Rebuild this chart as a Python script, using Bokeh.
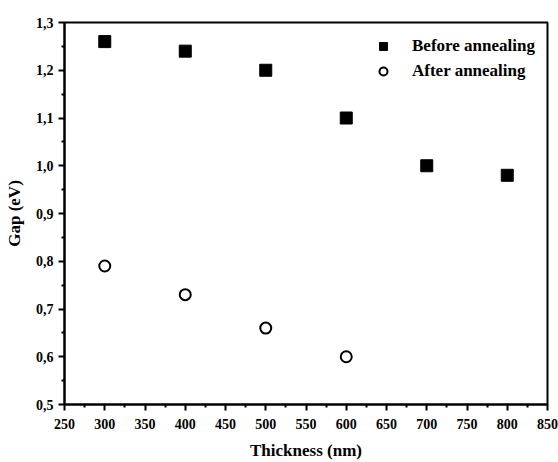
from bokeh.plotting import figure
from bokeh.models import FixedTicker, CustomJSTickFormatter, Range1d, Legend, LegendItem
from bokeh.embed import file_html
from bokeh.resources import INLINE

thickness_before = [300, 400, 500, 600, 700, 800]
gap_before = [1.26, 1.24, 1.20, 1.10, 1.00, 0.98]
thickness_after = [300, 400, 500, 600]
gap_after = [0.79, 0.73, 0.66, 0.60]

x_ticks = list(range(250, 851, 50))
x_minor = list(range(275, 850, 50))
y_ticks = [0.5, 0.6, 0.7, 0.8, 0.9, 1.0, 1.1, 1.2, 1.3]
y_minor = [0.55, 0.65, 0.75, 0.85, 0.95, 1.05, 1.15, 1.25]

FONT = "'Liberation Serif', 'Times New Roman', serif"

p = figure(width=558, height=462, output_backend="svg", toolbar_location=None,
           x_range=Range1d(250, 850), y_range=Range1d(0.5, 1.3),
           min_border_left=64, min_border_right=11, min_border_top=22, min_border_bottom=57)
p.background_fill_color = "white"
p.border_fill_color = "white"
p.grid.visible = False
p.outline_line_color = "black"
p.outline_line_width = 2
p.outline_line_alpha = 1

r1 = p.scatter(thickness_before, gap_before, marker="square", size=12,
               fill_color="black", line_color="black")
r2 = p.scatter(thickness_after, gap_after, marker="circle", size=11,
               fill_color="white", line_color="black", line_width=2)

fmt = CustomJSTickFormatter(code="return tick.toFixed(1).replace('.', ',');")
fmtx = CustomJSTickFormatter(code="return tick.toFixed(0);")

p.xaxis.ticker = FixedTicker(ticks=x_ticks, minor_ticks=x_minor)
p.yaxis.ticker = FixedTicker(ticks=y_ticks, minor_ticks=y_minor)
p.yaxis.formatter = fmt
p.xaxis.formatter = fmtx

for ax in (p.xaxis[0], p.yaxis[0]):
    ax.axis_line_width = 2
    ax.major_tick_line_width = 2
    ax.minor_tick_line_width = 2
    ax.major_tick_out = 6
    ax.major_tick_in = 0
    ax.minor_tick_out = 3
    ax.minor_tick_in = 0
    ax.major_label_text_font = FONT
    ax.major_label_text_font_style = "bold"
    ax.major_label_text_font_size = "14px"
    ax.major_label_text_color = "black"
    ax.axis_label_text_font = FONT
    ax.axis_label_text_font_style = "bold"
    ax.axis_label_text_font_size = "17px"
    ax.axis_label_text_color = "black"

p.xaxis.axis_label = "Thickness (nm)"
p.yaxis.axis_label = "Gap (eV)"
p.xaxis.major_label_standoff = 8
p.yaxis.major_label_standoff = 5
p.xaxis.axis_label_standoff = 9
p.yaxis.axis_label_standoff = 9

legend = Legend(items=[LegendItem(label="Before annealing", renderers=[r1]),
                       LegendItem(label="After annealing", renderers=[r2])],
                location=(301, 315))
legend.border_line_alpha = 0
legend.background_fill_alpha = 0
legend.label_text_font = FONT
legend.label_text_font_style = "bold"
legend.label_text_font_size = "17px"
legend.label_text_color = "black"
legend.spacing = 5
legend.glyph_width = 20
legend.glyph_height = 20
legend.label_height = 20
legend.label_standoff = 19
legend.padding = 8
legend.margin = 0
p.add_layout(legend)

open("out.html", "w").write(file_html(p, INLINE))
